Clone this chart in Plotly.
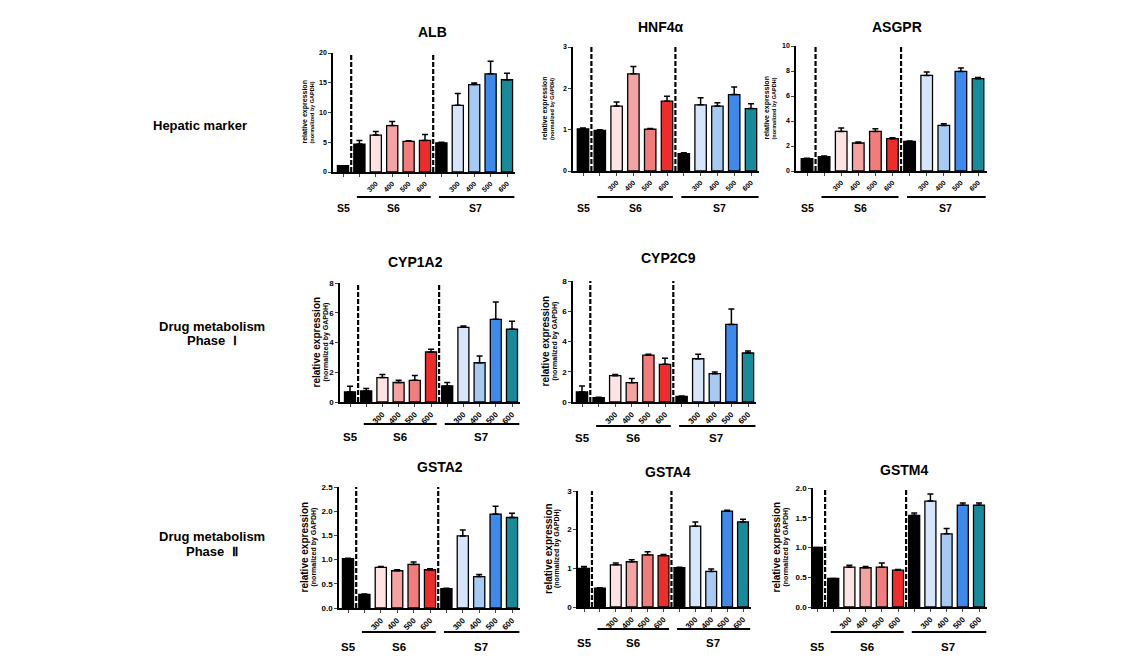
import plotly.graph_objects as go

W, H = 1129, 658

# ---------------- data ----------------
categories = ["S5", "S6", "S6-300", "S6-400", "S6-500", "S6-600",
              "S7", "S7-300", "S7-400", "S7-500", "S7-600"]
tick_labels = ["", "", "300", "400", "500", "600", "", "300", "400", "500", "600"]
group_names = ["S5", "S6", "S7"]
row_labels = ["Hepatic marker", "Drug metabolism", "Phase  Ⅰ", "Drug metabolism", "Phase  Ⅱ"]
gene_names = ["ALB", "HNF4α", "ASGPR", "CYP1A2", "CYP2C9", "GSTA2", "GSTA4", "GSTM4"]
ytitle_main = "relative expression"
ytitle_sub = "(normalized by GAPDH)"

alb_mean = [1.05, 4.7, 6.2, 7.8, 5.15, 5.3, 4.9, 11.2, 14.7, 16.5, 15.5]
alb_err = [0.0, 0.6, 0.6, 0.7, 0.1, 1.0, 0.1, 2.0, 0.25, 2.1, 1.1]

hnf4a_mean = [1.02, 0.98, 1.57, 2.35, 1.01, 1.69, 0.42, 1.60, 1.57, 1.85, 1.51]
hnf4a_err = [0.02, 0.02, 0.10, 0.18, 0.02, 0.12, 0.02, 0.17, 0.08, 0.18, 0.12]

asgpr_mean = [0.99, 1.15, 3.17, 2.24, 3.17, 2.59, 2.37, 7.65, 3.65, 7.97, 7.39]
asgpr_err = [0.03, 0.05, 0.27, 0.08, 0.22, 0.08, 0.03, 0.27, 0.14, 0.27, 0.10]

cyp1a2_mean = [0.68, 0.74, 1.64, 1.31, 1.46, 3.36, 1.08, 5.02, 2.64, 5.56, 4.89]
cyp1a2_err = [0.38, 0.16, 0.21, 0.15, 0.32, 0.18, 0.23, 0.09, 0.45, 1.17, 0.54]

cyp2c9_mean = [0.66, 0.29, 1.74, 1.28, 3.10, 2.49, 0.37, 2.86, 1.87, 5.13, 3.24]
cyp2c9_err = [0.40, 0.02, 0.07, 0.28, 0.05, 0.40, 0.02, 0.29, 0.11, 1.02, 0.13]

gsta2_mean = [1.02, 0.28, 0.84, 0.77, 0.90, 0.79, 0.40, 1.49, 0.65, 1.94, 1.87]
gsta2_err = [0.01, 0.01, 0.02, 0.02, 0.05, 0.02, 0.01, 0.12, 0.04, 0.16, 0.09]

gsta4_mean = [1.00, 0.49, 1.09, 1.17, 1.35, 1.33, 1.02, 2.09, 0.92, 2.48, 2.20]
gsta4_err = [0.05, 0.01, 0.05, 0.05, 0.08, 0.03, 0.01, 0.11, 0.06, 0.02, 0.07]

gstm4_mean = [1.00, 0.48, 0.67, 0.66, 0.67, 0.62, 1.54, 1.78, 1.23, 1.71, 1.71]
gstm4_err = [0.00, 0.00, 0.03, 0.02, 0.07, 0.01, 0.04, 0.12, 0.09, 0.04, 0.04]

y_max = [20, 3, 10, 8, 8, 2.5, 3, 2.0]
y_dtick = [5, 1, 2, 2, 2, 0.5, 1, 0.5]

means = [alb_mean, hnf4a_mean, asgpr_mean, cyp1a2_mean, cyp2c9_mean,
         gsta2_mean, gsta4_mean, gstm4_mean]
errs = [alb_err, hnf4a_err, asgpr_err, cyp1a2_err, cyp2c9_err,
        gsta2_err, gsta4_err, gstm4_err]

# ---------------- style / layout ----------------
bar_colors = ["#000000", "#000000", "#fde3e3", "#f4a2a2", "#f27c7c", "#ef2c2c",
              "#000000", "#d6e5fa", "#a6caf4", "#3d8aec", "#178b99"]

# per panel: axis px, first bar centre px, spacing px, top px, bottom px,
# title (x,y), y-title line x positions, group line y, group label y, row
panels = [
    dict(ax=333, c0=343, sp=16.4, top=53, bot=172, tx=432, ty=32, y1=304, y2=311, gl=197, gy=208, row=0),
    dict(ax=573, c0=583, sp=16.8, top=47, bot=171, tx=661, ty=27, y1=545, y2=552, gl=197, gy=208, row=0),
    dict(ax=796, c0=807, sp=17.1, top=46, bot=171, tx=897, ty=27, y1=767, y2=774, gl=197, gy=208, row=0),
    dict(ax=340, c0=350, sp=16.2, top=283, bot=402, tx=415, ty=262, y1=316, y2=325, gl=424, gy=437, row=1),
    dict(ax=573, c0=582, sp=16.6, top=281, bot=402, tx=668, ty=258, y1=545, y2=554, gl=426, gy=438, row=1),
    dict(ax=339, c0=348, sp=16.4, top=487, bot=608, tx=440, ty=467, y1=304, y2=313, gl=632, gy=647, row=2),
    dict(ax=578, c0=584, sp=15.9, top=491, bot=607, tx=668, ty=472, y1=548, y2=557, gl=629, gy=643, row=2),
    dict(ax=813, c0=817, sp=16.2, top=488, bot=607, tx=904, ty=470, y1=776, y2=785, gl=632, gy=647, row=2),
]

FONT = "Liberation Sans, Arial, sans-serif"

fig = go.Figure()
shapes = []
annotations = []

for i, p in enumerate(panels):
    n = i + 1
    xs = "" if n == 1 else str(n)
    xref, yref = "x" + xs, "y" + xs
    small = p["row"] == 0

    fig.add_trace(go.Bar(
        x=list(range(len(categories))), y=means[i],
        width=0.68,
        marker=dict(color=bar_colors, line=dict(color="black", width=1.3)),
        error_y=dict(type="data", symmetric=False, array=errs[i],
                     arrayminus=[0] * len(categories),
                     color="black", thickness=1.5, width=3),
        xaxis=xref, yaxis=yref, showlegend=False,
        hovertext=categories,
    ))

    x0 = p["ax"]
    x1 = p["c0"] + 10.5 * p["sp"]
    left = -(p["c0"] - p["ax"]) / p["sp"]

    fmt = ".1f" if y_dtick[i] < 1 else "d"
    fig.layout["xaxis" + xs] = dict(
        domain=[x0 / W, x1 / W], range=[left, 10.5], anchor=yref,
        tickvals=list(range(len(categories))), ticktext=tick_labels,
        tickangle=-45, ticks="outside", ticklen=3, tickwidth=1.3,
        showline=True, linecolor="black", linewidth=1.5,
        showgrid=False, zeroline=False, automargin=False,
        tickfont=dict(family=FONT, size=7 if small else 8, color="black", weight="bold"),
    )
    fig.layout["yaxis" + xs] = dict(
        domain=[1 - p["bot"] / H, 1 - p["top"] / H], range=[0, y_max[i]], anchor=xref,
        dtick=y_dtick[i], tick0=0, tickformat=fmt,
        ticks="outside", ticklen=3, tickwidth=1.3,
        showline=True, linecolor="black", linewidth=1.5,
        showgrid=False, zeroline=False, automargin=False,
        tickfont=dict(family=FONT, size=7 if small else 8, color="black", weight="bold"),
    )

    # dashed separators
    for xv in (0.5, 5.5):
        shapes.append(dict(type="line", xref=xref, yref=yref, x0=xv, x1=xv,
                           y0=0, y1=y_max[i],
                           line=dict(color="black", width=2.2, dash="5px,2px")))
    # group lines
    for a, b in ((0.85, 5.35), (5.85, 10.45)):
        shapes.append(dict(type="line", xref=xref, yref="paper", x0=a, x1=b,
                           y0=1 - p["gl"] / H, y1=1 - p["gl"] / H,
                           line=dict(color="black", width=2.2)))
    # group labels
    for gx, gname in zip((0, 3.1, 8.1), group_names):
        annotations.append(dict(xref=xref, yref="paper", x=gx, y=1 - p["gy"] / H,
                                text="<b>%s</b>" % gname, showarrow=False,
                                xanchor="center", yanchor="middle",
                                font=dict(family=FONT, size=10.5 if small else 11.5, color="black")))
    # title
    annotations.append(dict(xref="paper", yref="paper", x=p["tx"] / W, y=1 - p["ty"] / H,
                            text="<b>%s</b>" % gene_names[i], showarrow=False,
                            xanchor="center", yanchor="middle",
                            font=dict(family=FONT, size=14, color="black")))
    # y-axis title (two lines)
    s1, s2 = (7, 5.5) if small else (10, 7)
    ymid = 1 - (p["top"] + p["bot"]) / 2 / H
    annotations.append(dict(xref="paper", yref="paper", x=p["y1"] / W, y=ymid,
                            text="<b>%s</b>" % ytitle_main, textangle=-90, showarrow=False,
                            xanchor="center", yanchor="middle",
                            font=dict(family=FONT, size=s1, color="black")))
    annotations.append(dict(xref="paper", yref="paper", x=p["y2"] / W, y=ymid,
                            text="<b>%s</b>" % ytitle_sub, textangle=-90, showarrow=False,
                            xanchor="center", yanchor="middle",
                            font=dict(family=FONT, size=s2, color="black")))

# row labels
annotations.append(dict(xref="paper", yref="paper", x=151 / W, y=1 - 125 / H,
                        text="<b>%s</b>" % row_labels[0], showarrow=False,
                        xanchor="left", yanchor="middle",
                        font=dict(family=FONT, size=13, color="black")))
for lab, xc, yc in ((row_labels[1], 212, 326), (row_labels[2], 212, 341),
                    (row_labels[3], 212, 536), (row_labels[4], 212, 551)):
    annotations.append(dict(xref="paper", yref="paper", x=xc / W, y=1 - yc / H,
                            text="<b>%s</b>" % lab, showarrow=False,
                            xanchor="center", yanchor="middle",
                            font=dict(family=FONT, size=13, color="black")))

fig.update_layout(
    width=W, height=H, margin=dict(l=0, r=0, t=0, b=0, pad=0, autoexpand=False),
    plot_bgcolor="white", paper_bgcolor="white",
    shapes=shapes, annotations=annotations, showlegend=False,
)

fig.write_html("out.html", config={"displayModeBar": False},
               post_script="document.body.style.margin='0';document.body.style.padding='0';")
